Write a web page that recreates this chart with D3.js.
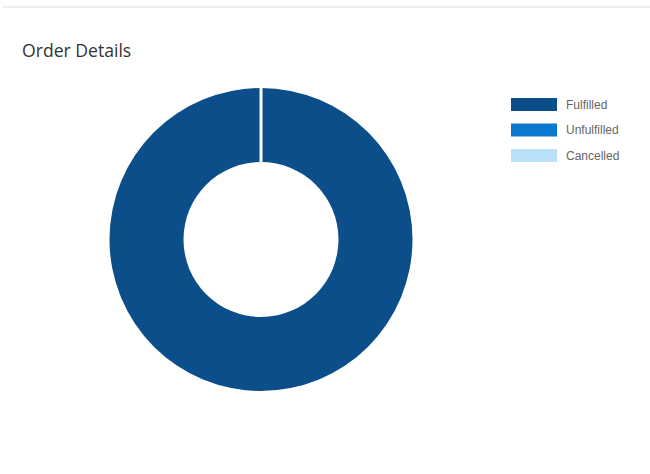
<!DOCTYPE html>
<html>
<head>
<meta charset="utf-8">
<script src="https://cdn.jsdelivr.net/npm/d3@7"></script>
<style>
  html, body { margin: 0; padding: 0; background: #fff; }
  svg { display: block; }
</style>
</head>
<body>
<svg id="chart" width="650" height="474"></svg>
<script>
// Order status breakdown
const categories = ["Fulfilled", "Unfulfilled", "Cancelled"];
const orderCounts = [100, 0, 0];
const statusColors = ["#0b4e89", "#0a79cf", "#b9e1f9"];

const svg = d3.select("#chart");

// card top edge with a soft shadow
const defs = svg.append("defs");
const shadow = defs.append("filter").attr("id", "edgeShadow")
  .attr("x", "-5%").attr("y", "-200%").attr("width", "110%").attr("height", "500%");
shadow.append("feGaussianBlur").attr("stdDeviation", 1.2);
svg.append("line")
  .attr("x1", 3).attr("x2", 650).attr("y1", 8).attr("y2", 8)
  .attr("stroke", "#c8c8c8").attr("stroke-width", 2)
  .attr("filter", "url(#edgeShadow)");
svg.append("line")
  .attr("x1", 3).attr("x2", 650).attr("y1", 7).attr("y2", 7)
  .attr("stroke", "#dcdcdc").attr("stroke-width", 1);

// title
svg.append("text")
  .attr("x", 22).attr("y", 56.5)
  .attr("font-family", "'Open Sans', sans-serif")
  .attr("font-size", 17.6)
  .attr("fill", "#333")
  .text("Order Details");

// donut
const innerR = 77.5, outerR = 151.5;
const data = categories.map((c, i) => ({ name: c, value: orderCounts[i] }));
const color = d3.scaleOrdinal().domain(categories).range(statusColors);
const pie = d3.pie().sort(null).value(d => d.value);
const arc = d3.arc().innerRadius(innerR).outerRadius(outerR);
const slices = pie(data).filter(d => d.data.value > 0);

const g = svg.append("g").attr("transform", "translate(261,239.5)");
g.selectAll("path.slice")
  .data(slices)
  .join("path")
  .attr("class", "slice")
  .attr("d", arc)
  .attr("fill", d => color(d.data.name));

// white separators at slice boundaries
g.selectAll("line.sep")
  .data(slices)
  .join("line")
  .attr("class", "sep")
  .attr("x1", d => innerR * Math.sin(d.startAngle))
  .attr("y1", d => -innerR * Math.cos(d.startAngle))
  .attr("x2", d => (outerR + 1) * Math.sin(d.startAngle))
  .attr("y2", d => -(outerR + 1) * Math.cos(d.startAngle))
  .attr("stroke", "#fff")
  .attr("stroke-width", 3);

// legend
const legend = svg.append("g").attr("transform", "translate(511,98)");
const item = legend.selectAll("g")
  .data(categories)
  .join("g")
  .attr("transform", (d, i) => `translate(0,${i * 25.5})`);
item.append("rect")
  .attr("width", 46).attr("height", 13)
  .attr("fill", d => color(d));
item.append("text")
  .attr("x", 55).attr("y", 10.5)
  .attr("font-family", "'Liberation Sans', Arial, sans-serif")
  .attr("font-size", 12)
  .attr("fill", "#666")
  .text(d => d);
</script>
</body>
</html>
